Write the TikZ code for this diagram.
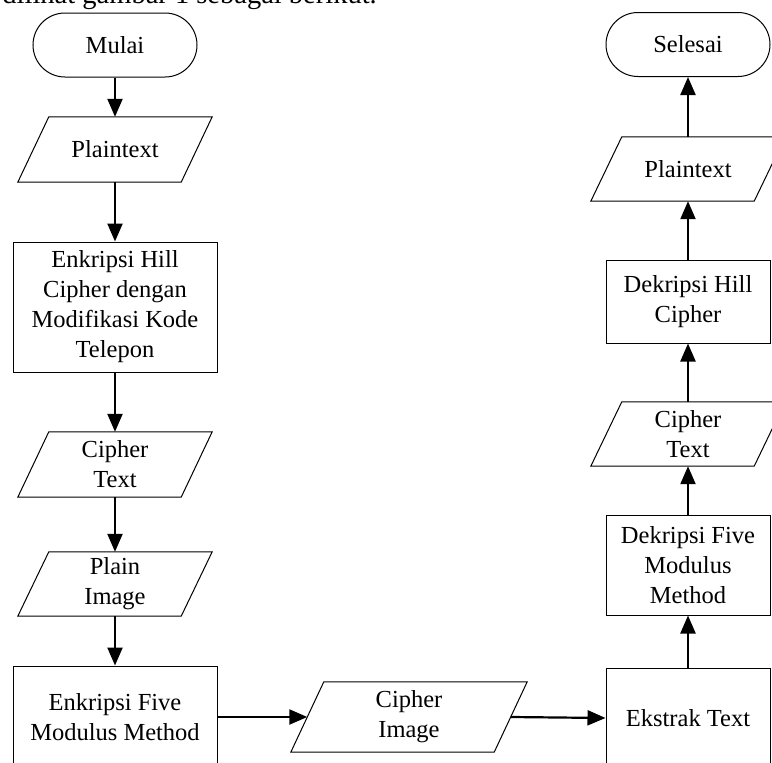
\documentclass[tikz,border=0pt]{standalone}
\usepackage{fontspec}
\setmainfont{Liberation Serif}
\usetikzlibrary{arrows.meta}
\newcommand\drawpara[2]{\draw[line width=1pt] ([xshift=#2/2]#1.north west) -- ([xshift=#2/2]#1.north east) -- ([xshift=-#2/2]#1.south east) -- ([xshift=-#2/2]#1.south west) -- cycle;}
\tikzset{
  txt/.style={font=\fontsize{24.5}{30}\selectfont, align=center, inner sep=0pt},
  term/.style={txt, draw, line width=1pt, rounded corners=32pt, minimum width=164pt, minimum height=64pt},
  proc/.style={txt, draw, line width=1pt},
  iobox/.style={txt, minimum width=163pt, minimum height=65pt},
  flow/.style={line width=2.2pt, -{Triangle[length=18pt,width=15pt]}},
}
\begin{document}
\begin{tikzpicture}[x=1pt,y=-1pt]
\useasboundingbox (0,0) rectangle (772,763);
\clip (0,0) rectangle (772,763);
\fill[white] (0,0) rectangle (772,763);
% clipped page text
\node[anchor=base east, inner sep=0pt, font=\fontsize{28.5}{32}\selectfont] (pagetext) at (377,3) {dilihat gambar 1 sebagai berikut.};
% left column
\node[term] (mulai) at (115,45) {Mulai};
\node[iobox] (pt1) at (115,149.5) {Plaintext};
\node[proc, minimum width=204pt, minimum height=130pt] (ehill) at (115,307) {Enkripsi Hill\\Cipher dengan\\Modifikasi Kode\\Telepon};
\node[iobox] (ct1) at (115,464.5) {Cipher\\Text};
\node[iobox, minimum height=64pt] (pimg) at (115,584) {Plain\\Image};
\node[proc, minimum width=204pt, minimum height=102pt] (efive) at (115,717) {Enkripsi Five\\Modulus Method};
% middle
\node[iobox, minimum width=203pt, minimum height=70pt] (cimg) at (409,717) {Cipher\\Image};
% right column
\node[proc, minimum width=164pt, minimum height=100pt] (ekstrak) at (688,718) {Ekstrak Text};
\node[proc, minimum width=164pt, minimum height=100pt] (dfive) at (688,565) {Dekripsi Five\\Modulus\\Method};
\node[iobox, minimum height=64pt] (ct2) at (688,434) {Cipher\\Text};
\node[proc, minimum width=164pt, minimum height=83pt] (dhill) at (688,301.5) {Dekripsi Hill\\Cipher};
\node[iobox, minimum height=64pt] (pt2) at (688,169) {Plaintext};
\node[term] (selesai) at (688,44.5) {Selesai};
% parallelogram outlines
\drawpara{pt1}{31}
\drawpara{ct1}{31}
\drawpara{pimg}{31}
\drawpara{cimg}{33}
\drawpara{ct2}{31}
\drawpara{pt2}{31}
% connectors
\draw[flow] (mulai.south) -- (pt1.north);
\draw[flow] (pt1.south) -- (ehill.north);
\draw[flow] (ehill.south) -- (ct1.north);
\draw[flow] (ct1.south) -- (pimg.north);
\draw[flow] (pimg.south) -- (efive.north);
\draw[flow] (efive.east) -- (cimg.west);
\draw[flow] (cimg.east) -- (ekstrak.west);
\draw[flow] (ekstrak.north) -- (dfive.south);
\draw[flow] (dfive.north) -- (ct2.south);
\draw[flow] (ct2.north) -- (dhill.south);
\draw[flow] (dhill.north) -- (pt2.south);
\draw[flow] (pt2.north) -- (selesai.south);
\end{tikzpicture}
\end{document}
